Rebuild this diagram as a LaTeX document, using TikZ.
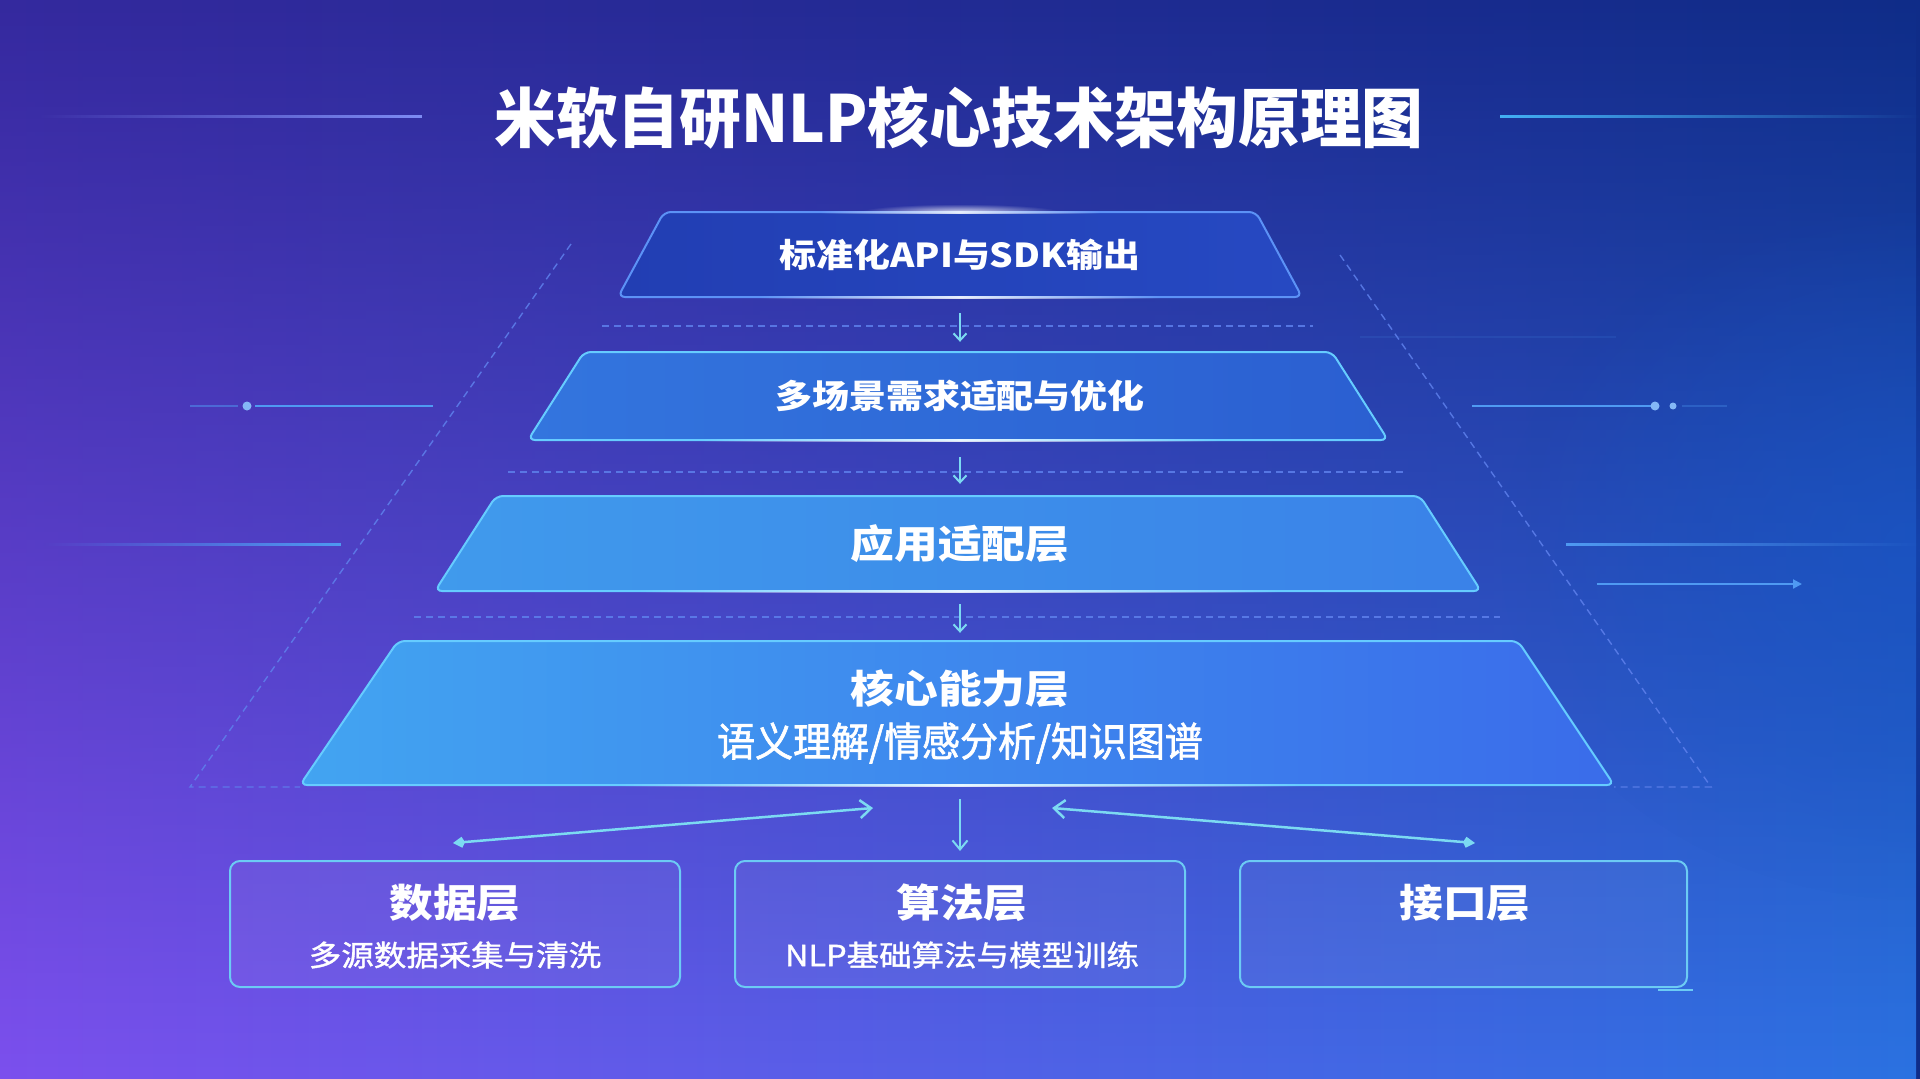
\documentclass[tikz,border=0pt]{standalone}
\usepackage{fontspec}
\newfontfamily\cjk{Noto Sans CJK SC}[FakeStretch=1.12]
\newfontfamily\cjkt{Noto Sans CJK SC}[FakeStretch=0.95]
\newfontfamily\cjks{Noto Sans CJK SC}[FakeStretch=0.95, FakeBold=1.6]
\newfontfamily\cjkm{Noto Sans CJK SC}[FakeStretch=1.12, FakeBold=1.3]
\usetikzlibrary{arrows.meta,fadings}
\newcommand\fsz[1]{\fontsize{#1}{#1}\selectfont}
\definecolor{bgTL}{HTML}{34299E}
\definecolor{bgTR}{HTML}{0F2C88}
\definecolor{bgBL}{HTML}{7C50EE}
\definecolor{bgBR}{HTML}{2B72E2}
\definecolor{bgMR}{HTML}{1A56CA}
\definecolor{bordA}{HTML}{5C92F6}
\definecolor{bordB}{HTML}{66CCFF}
\definecolor{boxc}{HTML}{6CCBF4}
\definecolor{arrc}{HTML}{7CDAF2}
\definecolor{dashc}{HTML}{5E80EC}
\definecolor{decoc}{HTML}{4F9AF2}
\definecolor{lineL}{HTML}{7E8CF4}
\definecolor{lineR}{HTML}{43B0F4}
\definecolor{fa1}{HTML}{223EB3}
\definecolor{fb1}{HTML}{2649C2}
\definecolor{fa2}{HTML}{3375DE}
\definecolor{fb2}{HTML}{2B5FD1}
\definecolor{fa3}{HTML}{409AEC}
\definecolor{fb3}{HTML}{3A82E8}
\definecolor{fa4}{HTML}{42A4F1}
\definecolor{fb4}{HTML}{3A6CEA}
\tikzfading[name=botop, top color=transparent!100, bottom color=transparent!0]
\tikzfading[name=midglow, left color=transparent!100, right color=transparent!100, middle color=transparent!15]
\tikzfading[name=fadeR, left color=transparent!0, right color=transparent!100]
\tikzfading[name=fadeL, left color=transparent!100, right color=transparent!0]
\tikzfading[name=rglow, inner color=transparent!20, outer color=transparent!100]
\tikzfading[name=sideglow, inner color=transparent!45, outer color=transparent!100]
\begin{document}
\begin{tikzpicture}[x=1pt,y=-1pt,
  layershape/.style={line width=2pt, rounded corners=7pt},
  ltext/.style={text=white, inner sep=0pt, font=\cjk\bfseries, minimum width=400pt},
  wtext/.style={text=white, inner sep=0pt, font=\cjk},
  boxst/.style={draw=boxc, line width=2pt, rounded corners=10pt, fill=white, fill opacity=0.05, inner sep=0pt},
  conn/.style={draw=arrc, line width=2pt, -{Straight Barb[length=7pt,width=13pt,line width=2pt]}},
  dline/.style={draw=dashc, line width=1.4pt, dash pattern=on 7pt off 5pt, opacity=0.85},
  glowline/.style={fill=white, path fading=midglow}
]
\useasboundingbox (0,0) rectangle (1920,1079);
% background
\shade[left color=bgTL, right color=bgTR] (0,0) rectangle (1920,1079);
\shade[left color=bgBL, right color=bgBR, path fading=botop] (0,0) rectangle (1920,1079);
\fill[bgMR, path fading=sideglow] (1500,200) rectangle (2340,900);

% title and its side lines
\fill[lineL, path fading=fadeL] (37,114.5) rectangle (422,117.5);
\fill[lineR, path fading=fadeR] (1500,114.5) rectangle (1920,117.5);
\node[text=white, inner sep=0pt, font=\cjkt\bfseries\fsz{65}] (title) at (959,118) {米软自研NLP核心技术架构原理图};

% side decorations
\draw[decoc, line width=1.5pt, opacity=0.5] (190,406) -- (238,406);
\draw[decoc, line width=2pt] (255,406) -- (433,406);
\fill[decoc!70!white] (247,406) circle (4.5pt);
\fill[decoc, path fading=fadeL] (43,543) rectangle (341,545.5);
\draw[decoc, line width=2pt] (1472,406) -- (1652,406);
\fill[decoc!70!white] (1655,406) circle (4.5pt);
\fill[decoc!70!white] (1673,406) circle (3.5pt);
\draw[decoc, line width=1.2pt, opacity=0.3] (1682,406) -- (1727,406);
\fill[decoc, path fading=fadeR] (1566,543) rectangle (1920,545.5);
\draw[decoc, line width=2pt, opacity=0.12] (1360,337) -- (1616,337);
\draw[decoc, line width=2pt, -{Triangle[length=9pt,width=9pt]}] (1597,584) -- (1802,584);

% dashed envelope
\draw[dline] (571,244) -- (190,787) -- (300,787);
\draw[dline] (1340,255) -- (1711,787) -- (1614,787);
\draw[dline] (602,326) -- (1313,326);
\draw[dline] (508,472) -- (1406,472);
\draw[dline] (414,617) -- (1500,617);

% layer shapes
\fill[white, path fading=rglow] (860,204) rectangle (1060,220);
\draw[layershape, draw=bordA, left color=fa1, right color=fb1] (664,212) -- (1256,212) -- (1302,297) -- (618,297) -- cycle;
\draw[layershape, draw=bordB, left color=fa2, right color=fb2] (584,352) -- (1332,352) -- (1388,440) -- (528,440) -- cycle;
\draw[layershape, draw=bordB, left color=fa3, right color=fb3] (496,496) -- (1420,496) -- (1481,591) -- (435,591) -- cycle;
\draw[layershape, draw=bordB, left color=fa4, right color=fb4] (398,641) -- (1518,641) -- (1614,785) -- (300,785) -- cycle;
\fill[glowline] (760,295.5) rectangle (1160,298.5);
\fill[glowline] (700,438.5) rectangle (1220,441.5);
\fill[glowline] (640,589.5) rectangle (1280,592.5);
\fill[glowline] (620,783.5) rectangle (1300,786.5);
\fill[glowline] (820,210.5) rectangle (1100,213.5);

% layer nodes
\node[ltext, minimum height=85pt, font=\cjk\bfseries\fsz{33}] (L1) at (960,254.5) {标准化API与SDK输出};
\node[ltext, minimum height=88pt, font=\cjk\bfseries\fsz{33}] (L2) at (960,396) {多场景需求适配与优化};
\node[ltext, minimum height=95pt, font=\cjk\bfseries\fsz{39}] (L3) at (960,543.5) {应用适配层};
\node[ltext, minimum height=144pt] (L4) at (960,713) {};
\node[wtext, font=\cjk\bfseries\fsz{39}] (L4t) at (960,689) {核心能力层};
\node[wtext, font=\cjks\fsz{40}] (L4s) at (960,743) {语义理解/情感分析/知识图谱};

% bottom boxes
\node[boxst, minimum width=450pt, minimum height=126pt] (B1) at (455,924) {};
\node[boxst, minimum width=450pt, minimum height=126pt] (B2) at (960,924) {};
\node[boxst, minimum width=447pt, minimum height=126pt] (B3) at (1463.5,924) {};
\draw[boxc, line width=1.5pt] (1658,990) -- (1693,990);
\node[wtext, font=\cjk\bfseries\fsz{39}] (B1t) at (455,903) {数据层};
\node[wtext, font=\cjkm\fsz{29}] (B1s) at (455,955) {多源数据采集与清洗};
\node[wtext, font=\cjk\bfseries\fsz{39}] (B2t) at (962,903) {算法层};
\node[wtext, font=\cjkm\fsz{29}] (B2s) at (962,955) {NLP基础算法与模型训练};
\node[wtext, font=\cjk\bfseries\fsz{39}] (B3t) at (1465,903) {接口层};

% connectors between layers
\draw[conn, shorten <=16pt, shorten >=10pt] (L1.south) -- (L2.north);
\draw[conn, shorten <=17pt, shorten >=12pt] (L2.south) -- (L3.north);
\draw[conn, shorten <=13pt, shorten >=8pt] (L3.south) -- (L4.north);
\draw[conn, shorten <=14pt, shorten >=9pt, -{Straight Barb[length=9pt,width=15pt,line width=2pt]}] (L4.south) -- (B2.north);
\coordinate (dL) at (453,843);
\coordinate (dLc) at (873,808);
\coordinate (dR) at (1475,843);
\coordinate (dRc) at (1052,808);
\draw[arrc, line width=2.5pt, {Kite[length=12pt,width=11pt]}-{Straight Barb[length=11pt,width=18pt,line width=2.5pt]}] (dL) -- (dLc);
\draw[arrc, line width=2.5pt, {Kite[length=12pt,width=11pt]}-{Straight Barb[length=11pt,width=18pt,line width=2.5pt]}] (dR) -- (dRc);
\end{tikzpicture}
\end{document}
